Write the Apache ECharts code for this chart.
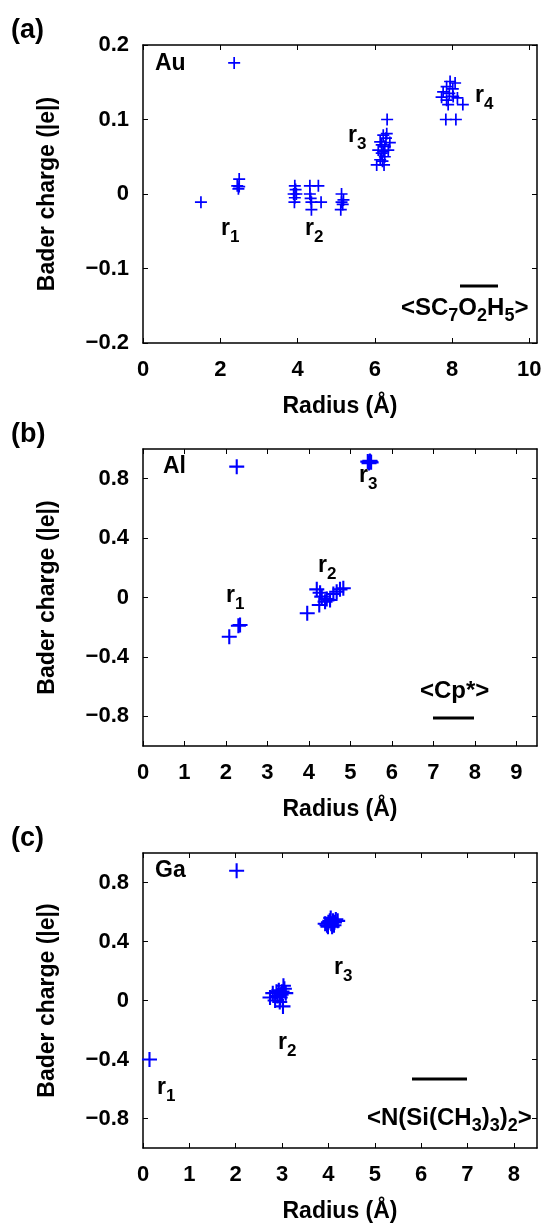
<!DOCTYPE html>
<html>
<head>
<meta charset="utf-8">
<script src="https://cdn.jsdelivr.net/npm/echarts@6.0.0/dist/echarts.min.js"></script>
<style>
  html, body { margin: 0; padding: 0; background: #fff; }
  #chart { width: 548px; height: 1224px; }
</style>
</head>
<body>
<div id="chart"></div>
<script>
/* (a) Au */
const auRadius = [2.36, 1.50, 2.49, 2.44, 2.49, 2.47,
	3.93, 3.95, 3.90, 3.97, 3.93, 3.92,
	4.32, 4.54, 4.32, 4.36, 4.61, 4.36, 4.34,
	5.14, 5.14, 5.19, 5.12, 5.17,
	6.32, 6.31, 6.22, 6.39, 6.14, 6.18, 6.26, 6.09, 6.35, 6.18, 6.26, 6.14, 6.05, 6.24, 6.20, 6.29, 6.22,
	7.95, 8.08, 7.86, 8.02, 7.77, 7.93, 7.73, 8.03, 8.14, 7.86, 8.28, 7.90, 7.84, 8.10];
const auCharge = [0.176, -0.011, 0.020, 0.011, 0.010, 0.007,
	0.011, 0.006, 0, 0, -0.005, -0.011,
	0.011, 0.011, 0, -0.011, -0.011, -0.021, -0.006,
	0, -0.011, -0.008, -0.021, -0.014,
	0.100, 0.081, 0.079, 0.069, 0.070, 0.066, 0.064, 0.059, 0.059, 0.055, 0.050, 0.046, 0.039, 0.039, 0.044, 0.075, 0.057,
	0.151, 0.149, 0.144, 0.141, 0.137, 0.135, 0.130, 0.131, 0.129, 0.126, 0.120, 0.120, 0.100, 0.100];

/* (b) Al */
const alRadius = [2.26, 5.42, 5.47, 5.50, 5.45, 5.48,
	2.08, 2.34, 2.30, 3.96,
	4.19, 4.27, 4.25, 4.39, 4.51, 4.31, 4.67, 4.75, 4.59, 4.43, 4.83];
const alCharge = [0.881, 0.915, 0.92, 0.91, 0.905, 0.915,
	-0.264, -0.185, -0.19, -0.106,
	0.055, 0.032, -0.05, -0.028, -0.017, 0.006, 0.039, 0.055, 0.024, -0.01, 0.062];

/* (c) Ga */
const gaRadius = [0.14, 2.02,
	3.93, 3.97, 4.00, 4.03, 4.06, 4.08, 4.10, 4.13, 4.16, 4.20, 3.99, 4.05, 4.12,
	2.74, 2.80, 2.85, 2.90, 2.93, 2.95, 2.98, 3.00, 3.03, 3.05, 3.02, 3.08, 2.88, 2.96];
const gaCharge = [-0.40, 0.88,
	0.52, 0.51, 0.53, 0.54, 0.52, 0.50, 0.54, 0.53, 0.55, 0.54, 0.50, 0.56, 0.51,
	0.02, 0.05, 0.00, 0.03, 0.07, -0.01, 0.04, 0.06, 0.10, 0.08, -0.04, 0.05, 0.06, 0.02];

/* 刻度 */
const auXTicks = [0, 2, 4, 6, 8, 10];
const auYTicks = [-0.2, -0.1, 0, 0.1, 0.2];
const alXTicks = [0, 1, 2, 3, 4, 5, 6, 7, 8, 9];
const gaXTicks = [0, 1, 2, 3, 4, 5, 6, 7, 8];
const chargeTicks = [-0.8, -0.4, 0, 0.4, 0.8];

const FONT = "'Liberation Sans', Arial, sans-serif";
const BLUE = "#0000ff";
const plusSmall = "path://M0,5.15H5.15V0H6.85V5.15H12V6.85H6.85V12H5.15V6.85H0Z";
const plusBig = "path://M0,6.45H6.45V0H8.55V6.45H15V8.55H8.55V15H6.45V8.55H0Z";

const zip = (xs, ys) => xs.map((x, i) => [x, ys[i]]);
const fmt = (v) => (v < 0 ? "\u2212" + (-v) : String(v));

const panels = [
	{ top: 45, height: 298, xMax: 10.2, xTicks: auXTicks, yMin: -0.2, yMax: 0.2, yTicks: auYTicks },
	{ top: 449, height: 297, xMax: 9.5, xTicks: alXTicks, yMin: -1, yMax: 1, yTicks: chargeTicks },
	{ top: 853, height: 297, xMax: 8.5, xTicks: gaXTicks, yMin: -1, yMax: 1, yTicks: chargeTicks },
];

const grid = [];
const xAxis = [];
const yAxis = [];
panels.forEach((p, i) => {
	grid.push({ left: 143, top: p.top, width: 394, height: p.height });
	const line = { show: true, onZero: false, lineStyle: { color: "#000", width: 1.5 } };
	const tick = (vals) => ({ show: true, inside: true, length: 5, customValues: vals, lineStyle: { color: "#000", width: 1 } });
	xAxis.push({
		gridIndex: i, type: "value", min: 0, max: p.xMax, position: "bottom",
		axisLine: line, axisTick: tick(p.xTicks), splitLine: { show: false },
		axisLabel: { customValues: p.xTicks, margin: 16, color: "#000", fontSize: 22, fontWeight: "bold", fontFamily: FONT, formatter: fmt },
		name: "Radius (Å)", nameLocation: "middle", nameGap: 52,
		nameTextStyle: { color: "#000", fontSize: 23, fontWeight: "bold", fontFamily: FONT },
	});
	xAxis.push({
		gridIndex: i, type: "value", min: 0, max: p.xMax, position: "top",
		axisLine: line, axisTick: tick(p.xTicks), splitLine: { show: false }, axisLabel: { show: false },
	});
	yAxis.push({
		gridIndex: i, type: "value", min: p.yMin, max: p.yMax, position: "left",
		axisLine: line, axisTick: tick(p.yTicks), splitLine: { show: false },
		axisLabel: { customValues: p.yTicks, margin: 14, color: "#000", fontSize: 22, fontWeight: "bold", fontFamily: FONT, formatter: fmt },
		name: "Bader charge (|e|)", nameLocation: "middle", nameGap: 84,
		nameTextStyle: { color: "#000", fontSize: 23, fontWeight: "bold", fontFamily: FONT },
	});
	yAxis.push({
		gridIndex: i, type: "value", min: p.yMin, max: p.yMax, position: "right",
		axisLine: line, axisTick: tick(p.yTicks), splitLine: { show: false }, axisLabel: { show: false },
	});
});

const scatter = (xs, ys, i, symbol, size) => ({
	type: "scatter",
	xAxisIndex: i * 2,
	yAxisIndex: i * 2,
	symbol: symbol,
	symbolSize: size,
	itemStyle: { color: BLUE, opacity: 1 },
	silent: true,
	data: zip(xs, ys),
});

/* 下標：加大行高並貼底，字就往下移 */
const rich = {
	m: { fontSize: 23, lineHeight: 23, fontWeight: "bold", fontFamily: FONT, color: "#000", verticalAlign: "top" },
	s: { fontSize: 17, lineHeight: 29, fontWeight: "bold", fontFamily: FONT, color: "#000", verticalAlign: "bottom" },
	M: { fontSize: 24, lineHeight: 24, fontWeight: "bold", fontFamily: FONT, color: "#000", verticalAlign: "top" },
	f: { fontSize: 18, lineHeight: 29, fontWeight: "bold", fontFamily: FONT, color: "#000", verticalAlign: "bottom" },
};
const label = (x, y, text) => ({
	type: "text", x: x, y: y, silent: true,
	style: { text: text, rich: rich, verticalAlign: "top", align: "left", fill: "#000" },
});
const plain = (x, y, text, size) => ({
	type: "text", x: x, y: y, silent: true,
	style: { text: text, fontSize: size, fontWeight: "bold", fontFamily: FONT, fill: "#000", verticalAlign: "middle", align: "left" },
});
const bar = (x1, x2, y) => ({
	type: "line", silent: true,
	shape: { x1: x1, y1: y, x2: x2, y2: y },
	style: { stroke: "#000", lineWidth: 3 },
});

const chart = echarts.init(document.getElementById("chart"), null, { renderer: "canvas" });
chart.setOption({
	backgroundColor: "#fff",
	animation: false,
	grid: grid,
	xAxis: xAxis,
	yAxis: yAxis,
	series: [
		scatter(auRadius, auCharge, 0, plusSmall, 12),
		scatter(alRadius, alCharge, 1, plusBig, 15),
		scatter(gaRadius, gaCharge, 2, plusBig, 15),
	],
	graphic: [
		plain(11, 31, "(a)", 27),
		plain(11, 435, "(b)", 27),
		plain(11, 839, "(c)", 27),
		label(155, 52, "{m|Au}"),
		label(163, 455, "{m|Al}"),
		label(155, 859, "{m|Ga}"),
		label(221, 217, "{m|r}{s|1}"),
		label(305, 217, "{m|r}{s|2}"),
		label(348, 124, "{m|r}{s|3}"),
		label(475, 84, "{m|r}{s|4}"),
		label(226, 584, "{m|r}{s|1}"),
		label(318, 554, "{m|r}{s|2}"),
		label(359, 464, "{m|r}{s|3}"),
		label(157, 1076, "{m|r}{s|1}"),
		label(278, 1031, "{m|r}{s|2}"),
		label(334, 956, "{m|r}{s|3}"),
		bar(460, 498, 286),
		label(401, 296, "{M|<SC}{f|7}{M|O}{f|2}{M|H}{f|5}{M|>}"),
		bar(433, 474, 718),
		label(420, 679, "{M|<Cp*>}"),
		bar(412, 467, 1079),
		label(367, 1106, "{M|<N(Si(CH}{f|3}{M|)}{f|3}{M|)}{f|2}{M|>}"),
	],
});
</script>
</body>
</html>
